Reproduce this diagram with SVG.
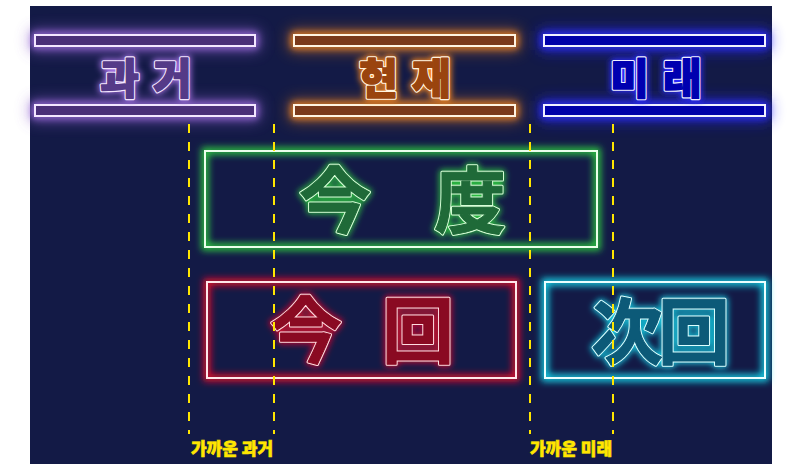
<svg xmlns="http://www.w3.org/2000/svg" width="800" height="464" viewBox="0 0 800 464">
<defs>
<filter id="halo" x="-50%" y="-100%" width="200%" height="300%"><feGaussianBlur stdDeviation="8"/></filter>
<filter id="glow" x="-30%" y="-60%" width="160%" height="220%"><feGaussianBlur stdDeviation="3.5"/></filter>
<filter id="tglow" x="-30%" y="-30%" width="160%" height="160%"><feGaussianBlur stdDeviation="3"/></filter>
<style>
.hbar{stroke-width:2}
.ht{font-family:"Noto Sans CJK KR","Noto Sans",sans-serif;font-weight:900;font-size:42px;text-anchor:middle;letter-spacing:14px;stroke-linejoin:round}
.ring{stroke-width:3.6}
.core{stroke-width:1.4}
.ct{font-family:"Noto Sans CJK JP","Noto Sans CJK SC",sans-serif;font-weight:700;font-size:72px;text-anchor:middle;stroke-linejoin:round}
.cring{stroke-width:3}
.ccore{stroke-width:1}
.box{fill:none;stroke-width:2}
.gl{fill:none;stroke-width:7}
.dash{stroke:#ffe600;stroke-width:2;stroke-dasharray:9 9;fill:none}
.lbl{font-family:"Noto Sans CJK KR","Noto Sans",sans-serif;font-weight:900;font-size:17px;fill:#ffe600;stroke:#ffe600;stroke-width:0.6;text-anchor:middle}
</style>
</defs>
<rect x="0" y="0" width="800" height="464" fill="#ffffff"/>
<rect x="30" y="6" width="742" height="458" fill="#131a46"/>

<g id="past">
<g filter="url(#halo)" fill="none" stroke="#8a5cc8" stroke-width="8" opacity="0.8">
<rect x="35" y="35" width="220" height="11"/><rect x="35" y="105" width="220" height="11"/>
</g>
<g filter="url(#glow)" fill="none" stroke="#a070e0" stroke-width="5">
<rect x="35" y="35" width="220" height="11"/><rect x="35" y="105" width="220" height="11"/>
</g>
<rect class="hbar" x="35" y="35" width="220" height="11" fill="#4a2f78" stroke="#f3e6ff"/>
<rect class="hbar" x="35" y="105" width="220" height="11" fill="#4a2f78" stroke="#f3e6ff"/>
<text class="ht" x="153" y="94" fill="none" stroke="#a070e0" stroke-width="6" filter="url(#tglow)">과거</text>
<text class="ht ring" x="153" y="94" fill="#f3e6ff" stroke="#f3e6ff">과거</text>
<text class="ht core" x="153" y="94" fill="#553a88" stroke="#553a88">과거</text>
</g>

<g id="present">
<g filter="url(#halo)" fill="none" stroke="#ff8a1a" stroke-width="8" opacity="0.6">
<rect x="294" y="35" width="221" height="11"/><rect x="294" y="105" width="221" height="11"/>
</g>
<g filter="url(#glow)" fill="none" stroke="#ff8a1a" stroke-width="5">
<rect x="294" y="35" width="221" height="11"/><rect x="294" y="105" width="221" height="11"/>
</g>
<rect class="hbar" x="294" y="35" width="221" height="11" fill="#7a3a1a" stroke="#fff4e0"/>
<rect class="hbar" x="294" y="105" width="221" height="11" fill="#7a3a1a" stroke="#fff4e0"/>
<text class="ht" x="412" y="94" fill="none" stroke="#ff8a1a" stroke-width="6" filter="url(#tglow)">현재</text>
<text class="ht ring" x="412" y="94" fill="#fff4e0" stroke="#fff4e0">현재</text>
<text class="ht core" x="412" y="94" fill="#9a440e" stroke="#9a440e">현재</text>
</g>

<g id="future">
<g filter="url(#halo)" fill="none" stroke="#2a2aff" stroke-width="8" opacity="0.8">
<rect x="544" y="35" width="221" height="11"/><rect x="544" y="105" width="221" height="11"/>
</g>
<g filter="url(#glow)" fill="none" stroke="#2a2aff" stroke-width="5">
<rect x="544" y="35" width="221" height="11"/><rect x="544" y="105" width="221" height="11"/>
</g>
<rect class="hbar" x="544" y="35" width="221" height="11" fill="#0000a8" stroke="#f0f0ff"/>
<rect class="hbar" x="544" y="105" width="221" height="11" fill="#0000a8" stroke="#f0f0ff"/>
<text class="ht" x="663" y="94" fill="none" stroke="#2a2aff" stroke-width="6" filter="url(#tglow)">미래</text>
<text class="ht ring" x="663" y="94" fill="#f0f0ff" stroke="#f0f0ff">미래</text>
<text class="ht core" x="663" y="94" fill="#0000b0" stroke="#0000b0">미래</text>
</g>

<g id="kondo">
<rect class="gl" x="205" y="151" width="392" height="96" stroke="#2ecc40" filter="url(#glow)"/>
<rect class="box" x="205" y="151" width="392" height="96" stroke="#eaffea"/>
<g class="ct" fill="none" stroke="#2ecc40" stroke-width="5" filter="url(#tglow)">
<text x="335" y="227">今</text><text x="470" y="227">度</text></g>
<g class="ct cring" fill="#d8ffd8" stroke="#d8ffd8">
<text x="335" y="227">今</text><text x="470" y="227">度</text></g>
<g class="ct ccore" fill="#1f6a38" stroke="#1f6a38">
<text x="335" y="227">今</text><text x="470" y="227">度</text></g>
</g>

<g id="konkai">
<rect class="gl" x="207" y="282" width="309" height="96" stroke="#e0102a" filter="url(#glow)"/>
<rect class="box" x="207" y="282" width="309" height="96" stroke="#ffe8ea"/>
<g class="ct" fill="none" stroke="#e0102a" stroke-width="5" filter="url(#tglow)">
<text x="306" y="357">今</text><text x="418" y="357">回</text></g>
<g class="ct cring" fill="#ffdce0" stroke="#ffdce0">
<text x="306" y="357">今</text><text x="418" y="357">回</text></g>
<g class="ct ccore" fill="#8a0a22" stroke="#8a0a22">
<text x="306" y="357">今</text><text x="418" y="357">回</text></g>
</g>

<g id="jikai">
<rect class="gl" x="545" y="282" width="220" height="96" stroke="#19d8ec" filter="url(#glow)"/>
<rect class="box" x="545" y="282" width="220" height="96" stroke="#eaffff"/>
<g class="ct" fill="none" stroke="#19d8ec" stroke-width="5" filter="url(#tglow)">
<text x="627" y="358">次</text><text x="694" y="358">回</text></g>
<g class="ct cring" fill="#dcffff" stroke="#dcffff">
<text x="627" y="358">次</text><text x="694" y="358">回</text></g>
<g class="ct ccore" fill="#0c5a78" stroke="#0c5a78">
<text x="627" y="358">次</text><text x="694" y="358">回</text></g>
</g>

<g id="connectors">
<line class="dash" x1="189" y1="124" x2="189" y2="434"/>
<line class="dash" x1="274" y1="124" x2="274" y2="434"/>
<line class="dash" x1="530" y1="124" x2="530" y2="434"/>
<line class="dash" x1="613" y1="124" x2="613" y2="434"/>
</g>

<g id="labels">
<text class="lbl" x="232" y="455">가까운 과거</text>
<text class="lbl" x="571" y="455">가까운 미래</text>
</g>
</svg>
